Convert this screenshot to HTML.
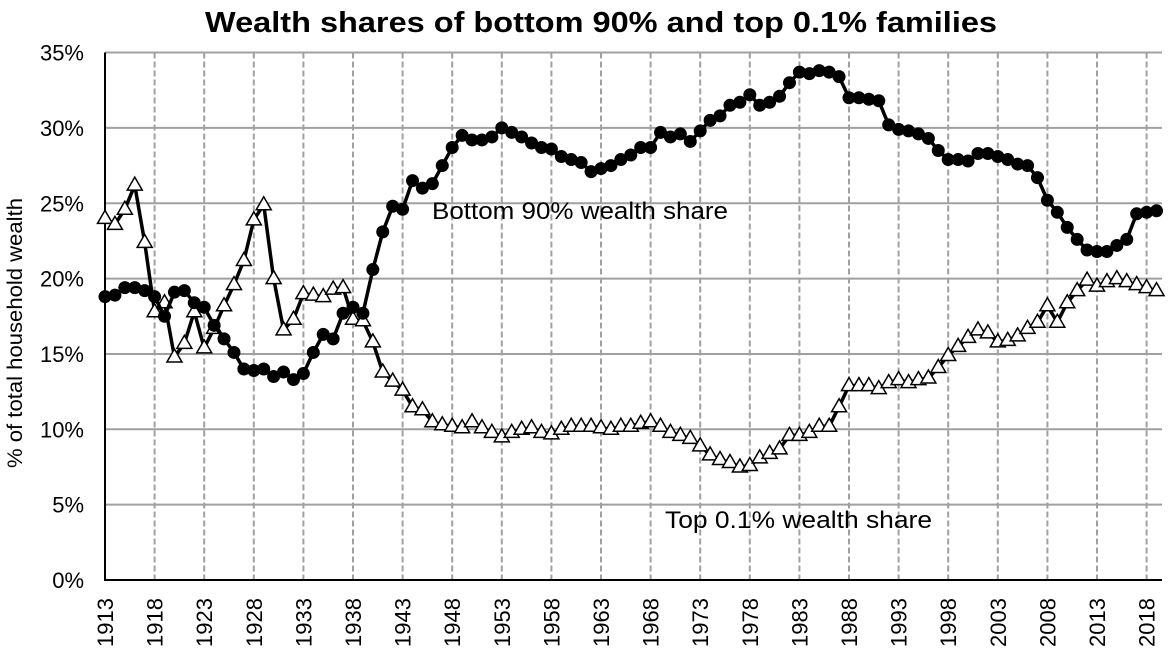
<!DOCTYPE html>
<html><head><meta charset="utf-8"><style>
body{margin:0;background:#fff;}
svg{display:block;font-family:"Liberation Sans",Arial,sans-serif;}
</style></head><body>
<svg id="chart" width="1170" height="662" viewBox="0 0 1170 662"></svg>
<script>
const years=[];for(let y=1913;y<=2019;y++)years.push(y);
const bottom90=[18.8,18.9,19.4,19.4,19.2,18.8,17.5,19.1,19.2,18.4,18.1,16.9,16.0,15.1,14.0,13.9,14.0,13.5,13.8,13.3,13.7,15.1,16.3,16.0,17.7,18.1,17.7,20.6,23.1,24.8,24.6,26.5,26.0,26.3,27.5,
28.7,29.5,29.2,29.2,29.4,30.0,29.7,29.4,29.0,28.7,28.6,28.1,27.9,27.7,27.1,27.3,27.5,27.9,28.2,28.7,28.7,29.7,29.4,29.6,29.1,29.8,30.5,30.8,31.5,31.7,32.2,31.5,31.7,32.1,33.0,33.7,33.6,33.8,33.7,33.4,32.0,32.0,31.9,31.8,30.2,29.9,29.8,29.6,29.3,28.5,27.9,27.9,27.8,28.3,28.3,28.1,27.9,27.6,27.5,26.7,25.2,24.4,23.4,22.6,21.9,21.8,21.8,22.2,22.6,24.3,24.4,24.5];
const top01=[24.0,23.6,24.6,26.2,22.4,17.8,18.4,14.8,15.7,17.8,15.4,16.7,18.2,19.6,21.2,23.9,24.9,20.0,16.6,17.3,19.0,18.9,18.8,19.3,19.4,17.3,17.2,15.8,13.8,13.2,12.6,11.5,11.3,10.5,10.3,
10.2,10.1,10.5,10.1,9.8,9.5,9.8,10.0,10.1,9.8,9.7,10.0,10.2,10.2,10.2,10.1,10.0,10.2,10.2,10.4,10.5,10.2,9.8,9.6,9.4,8.9,8.3,8.0,7.8,7.5,7.6,8.1,8.4,8.7,9.6,9.6,9.8,10.2,10.2,11.5,12.9,12.9,12.9,12.7,13.1,13.3,13.1,13.3,13.4,14.1,14.9,15.5,16.1,16.6,16.4,15.8,15.9,16.2,16.7,17.1,18.2,17.1,18.4,19.2,19.9,19.5,19.8,20.0,19.8,19.6,19.4,19.2];
const yTicks=[0,5,10,15,20,25,30,35];
const xTickYears=[1913,1918,1923,1928,1933,1938,1943,1948,1953,1958,1963,1968,1973,1978,1983,1988,1993,1998,2003,2008,2013,2018];
const NS="http://www.w3.org/2000/svg";
const svg=document.getElementById('chart');
const X0=105,PXY=9.92,Y0=580,PXP=15.07;
const xs=y=>X0+(y-1913)*PXY, ys=v=>Y0-v*PXP;
function el(t,a,p){const e=document.createElementNS(NS,t);for(const k in a)e.setAttribute(k,a[k]);(p||svg).appendChild(e);return e;}
const t=el('text',{x:601,y:32,'text-anchor':'middle','font-size':29,'font-weight':'bold',textLength:792,lengthAdjust:'spacingAndGlyphs'});t.textContent='Wealth shares of bottom 90% and top 0.1% families';


const yt=el('text',{x:0,y:0,transform:'translate(22,333) rotate(-90)','text-anchor':'middle','font-size':21,textLength:270,lengthAdjust:'spacingAndGlyphs'});yt.textContent='% of total household wealth';


yTicks.forEach(v=>{
 if(v>0){const g=el('line',{x1:X0,x2:1162,y1:ys(v),y2:ys(v),stroke:'#a0a0a0','stroke-width':2});
 
 }
 const l=el('text',{x:84,y:ys(v)+8,'text-anchor':'end','font-size':22});l.textContent=v+'%';
 
 
});
xTickYears.forEach(y=>{
 if(y>1913){const g=el('line',{x1:xs(y),x2:xs(y),y1:ys(35),y2:Y0,stroke:'#a0a0a0','stroke-width':2,'stroke-dasharray':'6,3'});
 
 }
 const l=el('text',{x:0,y:0,transform:`translate(${xs(y)+8},${Y0+18}) rotate(-90)`,'text-anchor':'end','font-size':22});l.textContent=y;
 
 
});
const ax=el('path',{d:`M${X0},${ys(35)} V${Y0} H1162`,stroke:'#000','stroke-width':2,fill:'none'});


function series(vals,name,marker){
 const p=el('polyline',{points:vals.map((v,i)=>xs(years[i])+','+ys(v)).join(' '),fill:'none',stroke:'#000','stroke-width':3.5});
 
 
 vals.forEach((v,i)=>{
  const cx=xs(years[i]),cy=ys(v);let m;
  if(marker==='circle')m=el('circle',{cx,cy,r:6.5,fill:'#000'});
  else m=el('polygon',{points:`${cx},${cy-8} ${cx-7.5},${cy+5} ${cx+7.5},${cy+5}`,fill:'#fff',stroke:'#000','stroke-width':1.5});
  
  
 });
}
series(top01,'top-0.1pct','triangle');
series(bottom90,'bottom-90pct','circle');
const a1=el('text',{x:432,y:219,'font-size':24,textLength:296,lengthAdjust:'spacingAndGlyphs'});a1.textContent='Bottom 90% wealth share';


const a2=el('text',{x:665,y:528,'font-size':24,textLength:267,lengthAdjust:'spacingAndGlyphs'});a2.textContent='Top 0.1% wealth share';


</script>
</body></html>
